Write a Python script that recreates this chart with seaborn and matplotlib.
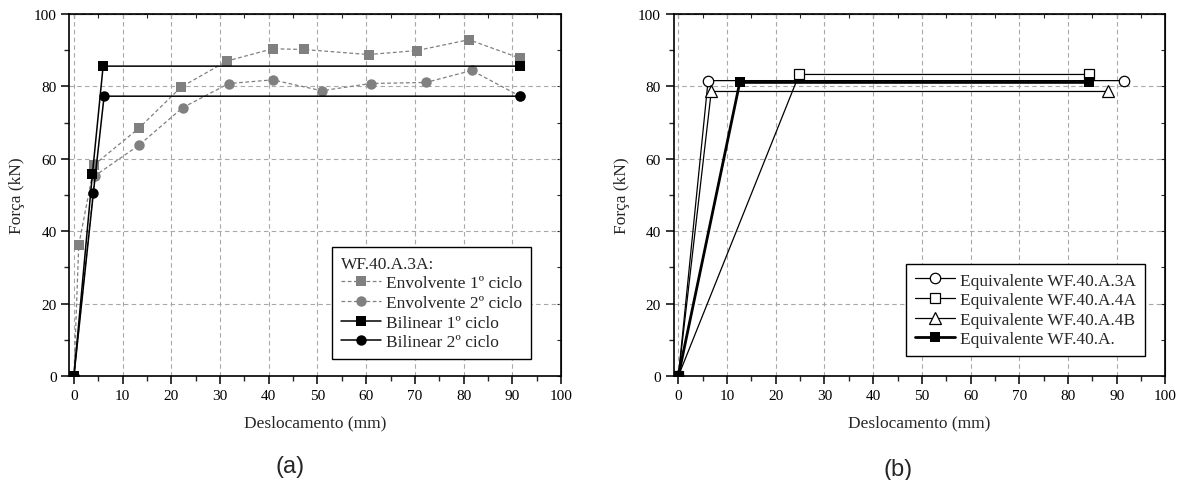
import matplotlib
matplotlib.use("Agg")
import matplotlib.pyplot as plt
from matplotlib.ticker import MultipleLocator
import seaborn as sns

# (a) envelopes and bilinear fits, WF.40.A.3A
env1_x = [0, 1.0, 4.2, 13.3, 22.0, 31.4, 40.8, 47.2, 60.5, 70.4, 81.1, 91.6]
env1_y = [0, 36.2, 58.4, 68.4, 79.8, 87.0, 90.4, 90.2, 88.8, 89.9, 92.9, 87.8]
env2_x = [0, 4.3, 13.4, 22.3, 31.8, 40.8, 50.9, 60.9, 72.3, 81.7, 91.6]
env2_y = [0, 55.3, 63.8, 74.1, 80.8, 81.8, 78.8, 80.8, 81.1, 84.4, 77.3]
bil1_x = [0, 3.8, 6.0, 91.6]
bil1_y = [0, 55.8, 85.6, 85.6]
bil2_x = [0, 4.0, 6.2, 91.6]
bil2_y = [0, 50.6, 77.3, 77.3]

# (b) equivalent bilinear curves
eq3a_x = [0, 6.1, 91.5]
eq3a_y = [0, 81.6, 81.6]
eq4a_x = [0, 24.8, 84.4]
eq4a_y = [0, 83.3, 83.3]
eq4b_x = [0, 6.75, 88.2]
eq4b_y = [0, 78.6, 78.6]
eqa_x = [0, 12.6, 84.4]
eqa_y = [0, 81.1, 81.1]

sns.set_style("ticks")
plt.rcParams["font.family"] = ["Liberation Serif", "DejaVu Serif"]

fig = plt.figure(figsize=(11.82, 4.81), dpi=100)
ax1 = fig.add_axes([0.0584, 0.2162, 0.4162, 0.7526])
ax2 = fig.add_axes([0.5698, 0.2162, 0.4162, 0.7526])

gray = "#808080"
dash = (0, (3, 2))


def style_axes(ax):
    ax.set_xlim(-1, 100)
    ax.set_ylim(0, 100)
    ax.xaxis.set_major_locator(MultipleLocator(10))
    ax.xaxis.set_minor_locator(MultipleLocator(5))
    ax.yaxis.set_major_locator(MultipleLocator(20))
    ax.yaxis.set_minor_locator(MultipleLocator(10))
    ax.set_axisbelow(True)
    ax.grid(True, which="major", color="#a8a8a8", ls=(0, (4, 3)), lw=0.8)
    for s in ax.spines.values():
        s.set_visible(True)
        s.set_color("black")
        s.set_linewidth(1.2)
    ax.tick_params(which="major", direction="out", length=6, width=1.1,
                   labelsize=11, colors="black", pad=3)
    ax.tick_params(which="minor", direction="out", length=3.5, width=1.0)
    # short inward ticks on top and right
    top = ax.secondary_xaxis("top")
    top.xaxis.set_major_locator(MultipleLocator(5))
    top.tick_params(direction="in", length=3, width=0.8, labeltop=False)
    top.set_xticklabels([])
    right = ax.secondary_yaxis("right")
    right.yaxis.set_major_locator(MultipleLocator(10))
    right.tick_params(direction="in", length=3, width=0.8, labelright=False)
    right.set_yticklabels([])
    ax.set_xlabel("Deslocamento (mm)", fontsize=12.5, labelpad=9)
    ax.set_ylabel("Força (kN)", fontsize=12.5, labelpad=6)


# panel (a)
sns.lineplot(x=env1_x, y=env1_y, ax=ax1, sort=False, estimator=None, color=gray,
             lw=0.9, ls=dash, marker="s", markersize=6.5, markeredgewidth=0,
             label="Envolvente 1º ciclo")
sns.lineplot(x=env2_x, y=env2_y, ax=ax1, sort=False, estimator=None, color=gray,
             lw=0.9, ls=dash, marker="o", markersize=7.5, markeredgewidth=0,
             label="Envolvente 2º ciclo")
sns.lineplot(x=bil1_x, y=bil1_y, ax=ax1, sort=False, estimator=None, color="black",
             lw=1.1, marker="s", markersize=7, markeredgewidth=0,
             label="Bilinear 1º ciclo")
sns.lineplot(x=bil2_x, y=bil2_y, ax=ax1, sort=False, estimator=None, color="black",
             lw=1.1, marker="o", markersize=7.5, markeredgewidth=0,
             label="Bilinear 2º ciclo")
style_axes(ax1)
leg1 = ax1.legend(title="WF.40.A.3A:", loc="lower right", bbox_to_anchor=(0.939, 0.047),
                  borderaxespad=0, fontsize=12.5, title_fontsize=12.5, alignment="left",
                  fancybox=False, edgecolor="black", framealpha=1, handlelength=2.3,
                  handletextpad=0.3, labelspacing=0.2, borderpad=0.5)
leg1.get_frame().set_linewidth(1.0)

# panel (b)
open_kw = dict(sort=False, estimator=None, color="black", lw=0.9,
               markerfacecolor="white", markeredgecolor="black", markeredgewidth=0.9)
sns.lineplot(x=eq3a_x, y=eq3a_y, ax=ax2, marker="o", markersize=7.5,
             label="Equivalente WF.40.A.3A", **open_kw)
sns.lineplot(x=eq4a_x, y=eq4a_y, ax=ax2, marker="s", markersize=6.5,
             label="Equivalente WF.40.A.4A", **open_kw)
sns.lineplot(x=eq4b_x, y=eq4b_y, ax=ax2, marker="^", markersize=8,
             label="Equivalente WF.40.A.4B", **open_kw)
sns.lineplot(x=eqa_x, y=eqa_y, ax=ax2, sort=False, estimator=None, color="black",
             lw=2.0, marker="s", markersize=7, markeredgewidth=0,
             label="Equivalente WF.40.A.")
style_axes(ax2)
leg2 = ax2.legend(loc="lower right", bbox_to_anchor=(0.958, 0.055), borderaxespad=0,
                  fontsize=12.5, fancybox=False, edgecolor="black", framealpha=1,
                  handlelength=2.3, handletextpad=0.3, labelspacing=0.2, borderpad=0.5)
leg2.get_frame().set_linewidth(1.0)

fig.text(0.245, 0.029, "(a)", fontsize=17, family="Liberation Sans", ha="center", va="center")
fig.text(0.760, 0.023, "(b)", fontsize=17, family="Liberation Sans", ha="center", va="center")

fig.savefig("out.png", dpi=100)
